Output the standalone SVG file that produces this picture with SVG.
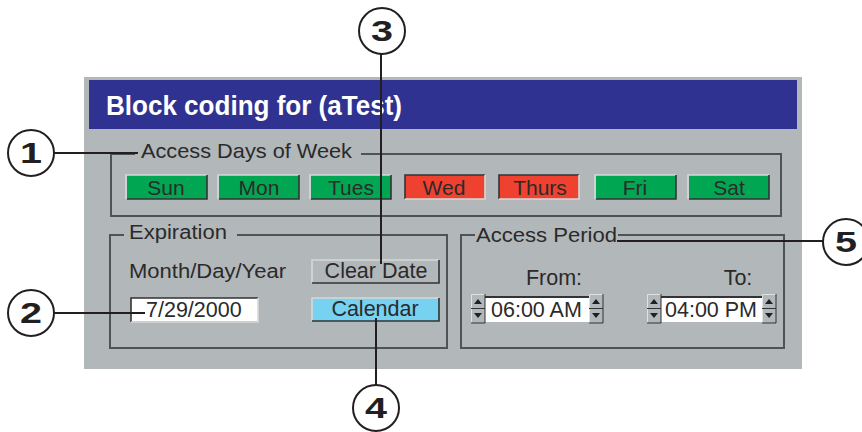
<svg xmlns="http://www.w3.org/2000/svg" width="862" height="432" viewBox="0 0 862 432">
<style>
text{font-family:"Liberation Sans",Arial,sans-serif;fill:#2b2a2b;font-size:21px}
.m{text-anchor:middle}
.frame{fill:none;stroke:#4f5355;stroke-width:2}
.btn{stroke:none}
.lite{fill:none;stroke:#d6d9d9;stroke-width:1.6}
.dark{fill:none;stroke:#333336;stroke-width:1.6}
.lead{fill:none;stroke:#231f20;stroke-width:2}
.num{fill:#fff;stroke:#231f20;stroke-width:2}
.numt{font-weight:bold;font-size:29px;text-anchor:middle;fill:#231f20}
.g{fill:#00a651}.r{fill:#ef4130}
.sp{fill:#b2b7b9}
.tri{fill:#231f20}
</style>
<defs>
<g id="spin">
<rect class="sp" x="0" y="0" width="14" height="29"/>
<path d="M0.5 29V0.5H14" fill="none" stroke="#dfe2e2"/>
<path d="M14 0V29H0" fill="none" stroke="#333336"/>
<path d="M0 14.5H14" stroke="#333336"/>
<path class="tri" d="M3 10L7 5L11 10Z"/>
<path class="tri" d="M3 19H11L7 24Z"/>
</g>
</defs>
<rect id="panel" x="84" y="77" width="718" height="292" fill="#b2b7b9"/>
<g id="banner"><rect x="89" y="80" width="708" height="49" fill="#303291"/>
<text x="106" y="115" textLength="296" lengthAdjust="spacingAndGlyphs" style="font-size:28px;font-weight:bold;fill:#fff">Block coding for (aTest)</text></g>
<g id="days-group">
<path class="frame" d="M135 154H111V216H781V154H361"/>
<text x="141" y="158" textLength="211" lengthAdjust="spacingAndGlyphs">Access Days of Week</text>
</g>
<g id="sun"><rect class="btn g" x="127" y="175" width="80" height="24"/><path class="lite" d="M126 199V175H207"/><path class="dark" d="M127 199H207V175"/><text class="m" x="166" y="195">Sun</text></g>
<g id="mon"><rect class="btn g" x="219" y="175" width="80" height="24"/><path class="lite" d="M218 199V175H299"/><path class="dark" d="M219 199H299V175"/><text class="m" x="259" y="195">Mon</text></g>
<g id="tues"><rect class="btn g" x="311" y="175" width="80" height="24"/><path class="lite" d="M310 199V175H391"/><path class="dark" d="M311 199H391V175"/><text class="m" x="351" y="195">Tues</text></g>
<g id="wed"><rect class="btn r" x="405" y="175" width="80" height="24"/><path class="dark" d="M405 199V175H485"/><path class="lite" d="M405 199H485V175"/><text class="m" x="444" y="195">Wed</text></g>
<g id="thurs"><rect class="btn r" x="499" y="175" width="80" height="24"/><path class="dark" d="M499 199V175H579"/><path class="lite" d="M499 199H579V175"/><text class="m" x="540" y="195">Thurs</text></g>
<g id="fri"><rect class="btn g" x="596" y="175" width="80" height="24"/><path class="lite" d="M595 199V175H676"/><path class="dark" d="M596 199H676V175"/><text class="m" x="635" y="195">Fri</text></g>
<g id="sat"><rect class="btn g" x="689" y="175" width="80" height="24"/><path class="lite" d="M688 199V175H769"/><path class="dark" d="M689 199H769V175"/><text class="m" x="729" y="195">Sat</text></g>
<g id="expiration">
<path class="frame" d="M124 235H110V348H447V235H237"/>
<text x="129" y="239" textLength="98" lengthAdjust="spacingAndGlyphs" style="font-size:20px">Expiration</text>
<text x="129" y="278" textLength="157" lengthAdjust="spacingAndGlyphs" style="font-size:20px">Month/Day/Year</text>
</g>
<g id="date-input"><rect x="131" y="298" width="127" height="23" fill="#fff"/><path class="dark" d="M131 322V298H258"/><path class="lite" d="M131 322H258V298"/><text x="146" y="317" style="font-size:21.5px">7/29/2000</text></g>
<g id="clear-date"><rect class="sp" x="312" y="260" width="127" height="23"/><path class="lite" d="M312 283V260H439"/><path class="dark" d="M312 283H439V260"/><text class="m" x="376" y="278" style="font-size:21.5px">Clear Date</text></g>
<g id="calendar"><rect x="312" y="298" width="127" height="23" fill="#77d1f0"/><path class="lite" d="M312 321V298H439"/><path class="dark" d="M312 321H439V298"/><text class="m" x="375" y="316" style="font-size:21.5px">Calendar</text></g>
<g id="access-period">
<path class="frame" d="M475 235H461V348H784V235H618"/>
<text x="476" y="242" textLength="141" lengthAdjust="spacingAndGlyphs">Access Period</text>
<text x="554" y="285" class="m" style="font-size:21.5px">From:</text>
<text x="738" y="285" class="m" style="font-size:21.5px">To:</text>
</g>
<g id="from-time"><rect x="485" y="296" width="104" height="26" fill="#fff"/><path d="M485 297H589" stroke="#333336" stroke-width="2"/><use href="#spin" x="471" y="294"/><use href="#spin" x="589" y="294"/><text x="491" y="317" style="font-size:21.5px">06:00 AM</text></g>
<g id="to-time"><rect x="661" y="296" width="101" height="26" fill="#fff"/><path d="M661 297H762" stroke="#333336" stroke-width="2"/><use href="#spin" x="647" y="294"/><use href="#spin" x="762" y="294"/><text x="665" y="317" style="font-size:21.5px">04:00 PM</text></g>
<g id="connectors">
<path class="lead" d="M54 153H138"/>
<path class="lead" d="M54 313H145"/>
<path class="lead" d="M381 54V264"/>
<path class="lead" d="M376 318V385"/>
<path class="lead" d="M617 241H823"/>
</g>
<g id="callout-1"><circle class="num" cx="31" cy="153" r="23"/><text class="numt" x="31" y="163" textLength="22" lengthAdjust="spacingAndGlyphs">1</text></g>
<g id="callout-2"><circle class="num" cx="31" cy="313" r="23"/><text class="numt" x="31" y="323" textLength="22" lengthAdjust="spacingAndGlyphs">2</text></g>
<g id="callout-3"><circle class="num" cx="382" cy="31" r="23"/><text class="numt" x="382" y="41" textLength="22" lengthAdjust="spacingAndGlyphs">3</text></g>
<g id="callout-4"><circle class="num" cx="376" cy="408" r="23"/><text class="numt" x="376" y="418" textLength="22" lengthAdjust="spacingAndGlyphs">4</text></g>
<g id="callout-5"><circle class="num" cx="846" cy="242" r="23"/><text class="numt" x="846" y="252" textLength="22" lengthAdjust="spacingAndGlyphs">5</text></g>
</svg>
